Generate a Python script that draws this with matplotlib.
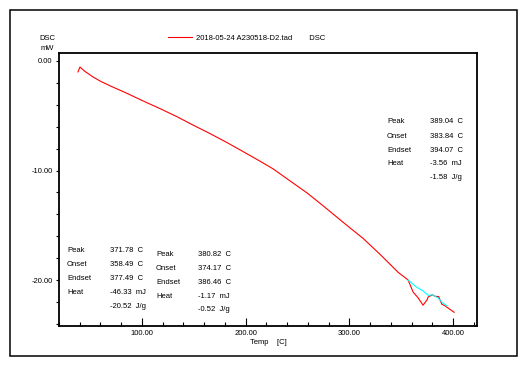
import matplotlib
matplotlib.use("Agg")
import matplotlib.pyplot as plt
from matplotlib.patches import Rectangle
from matplotlib.ticker import MultipleLocator, FormatStrFormatter

plt.rcParams['font.family'] = ['Liberation Sans', 'DejaVu Sans']

# DSC trace (temperature in C, signal in mW)
temp = [38.3, 40.2, 45.0, 52.8, 60.0, 70.0, 85.5, 100.0, 117.4, 133.0, 149.2,
        165.0, 182.0, 198.0, 213.8, 226.4, 242.0, 259.2, 275.0, 291.0, 302.0,
        313.2, 330.0, 347.0, 356.6, 361.4, 366.0, 371.0, 374.9, 375.9, 380.0,
        383.0, 386.0, 389.0, 392.0, 395.0, 398.0, 401.0]
dsc = [-1.0, -0.55, -0.95, -1.46, -1.85, -2.3, -2.95, -3.6, -4.35, -5.05, -5.85,
       -6.6, -7.45, -8.3, -9.15, -9.85, -10.9, -12.05, -13.25, -14.5, -15.35,
       -16.2, -17.7, -19.3, -20.0, -21.1, -21.6, -22.3, -21.8, -21.55, -21.35,
       -21.5, -21.5, -22.2, -22.35, -22.55, -22.75, -22.95]

# baselines (cyan)
base_t = [356.6, 364.0, 371.0, 376.0, 380.0, 385.5, 390.0, 394.0]
base_v = [-20.0, -20.6, -21.0, -21.4, -21.35, -21.65, -22.1, -22.35]

peaks = [
    ("371.78", "358.49", "377.49", "-46.33", "-20.52"),
    ("380.82", "374.17", "386.46", "-1.17", "-0.52"),
    ("389.04", "383.84", "394.07", "-3.56", "-1.58"),
]
# left edge of labels / values and top row, in pixels
block_pos = [(67, 110, 251), (156, 198, 254), (387, 430, 122)]

W, H = 525, 365
fs = 5.5


def px(x, y):
    return x / W, 1 - y / H


fig = plt.figure(figsize=(W / 100, H / 100), dpi=100)
fig.patches.append(Rectangle(px(10, 356), 507 / W, 346 / H, transform=fig.transFigure,
                             fill=False, edgecolor='black', linewidth=1.1))

ax = fig.add_axes([59 / W, 1 - 326 / H, 418 / W, 273 / H])
ax.plot(temp, dsc, color='red', linewidth=0.8, label='2018-05-24 A230518-D2.tad        DSC')
ax.plot(base_t, base_v, color='cyan', linewidth=0.8)

ax.set_xlim(20, 423)
ax.set_ylim(-24.2, 0.73)
ax.xaxis.set_major_locator(MultipleLocator(100))
ax.xaxis.set_minor_locator(MultipleLocator(20))
ax.yaxis.set_major_locator(MultipleLocator(10))
ax.yaxis.set_minor_locator(MultipleLocator(2))
ax.xaxis.set_major_formatter(FormatStrFormatter('%.2f'))
ax.yaxis.set_major_formatter(FormatStrFormatter('%.2f'))
ax.tick_params(axis='x', which='major', direction='in', length=6, width=0.8, pad=3, labelsize=fs)
ax.tick_params(axis='x', which='minor', direction='in', length=3, width=0.8)
ax.tick_params(axis='y', which='both', direction='out', length=2.5, width=0.8, pad=2, labelsize=fs)
for s in ax.spines.values():
    s.set_linewidth(1.3)

ax.set_xlabel('Temp    [C]', fontsize=fs, labelpad=1)

fig.text(*px(47, 38), 'DSC', fontsize=fs, ha='center', va='center')
fig.text(*px(47, 48), 'mW', fontsize=fs, ha='center', va='center')

leg = ax.legend(loc='center left', bbox_to_anchor=px(168, 38), bbox_transform=fig.transFigure,
                frameon=False, fontsize=fs, handlelength=3.2, handletextpad=0.4,
                borderpad=0, borderaxespad=0)

names = ['Peak', 'Onset', 'Endset', 'Heat']
for (pk, on, en, hj, hg), (lx, vx, ty) in zip(peaks, block_pos):
    vals = [pk + '  C', on + '  C', en + '  C', hj + '  mJ']
    for i in range(4):
        fig.text(*px(lx, ty + i * 14), names[i], fontsize=fs, va='center')
        fig.text(*px(vx, ty + i * 14), vals[i], fontsize=fs, va='center')
    fig.text(*px(vx, ty + 4 * 13.8), hg + '  J/g', fontsize=fs, va='center')

fig.savefig('out.png', dpi=100)
